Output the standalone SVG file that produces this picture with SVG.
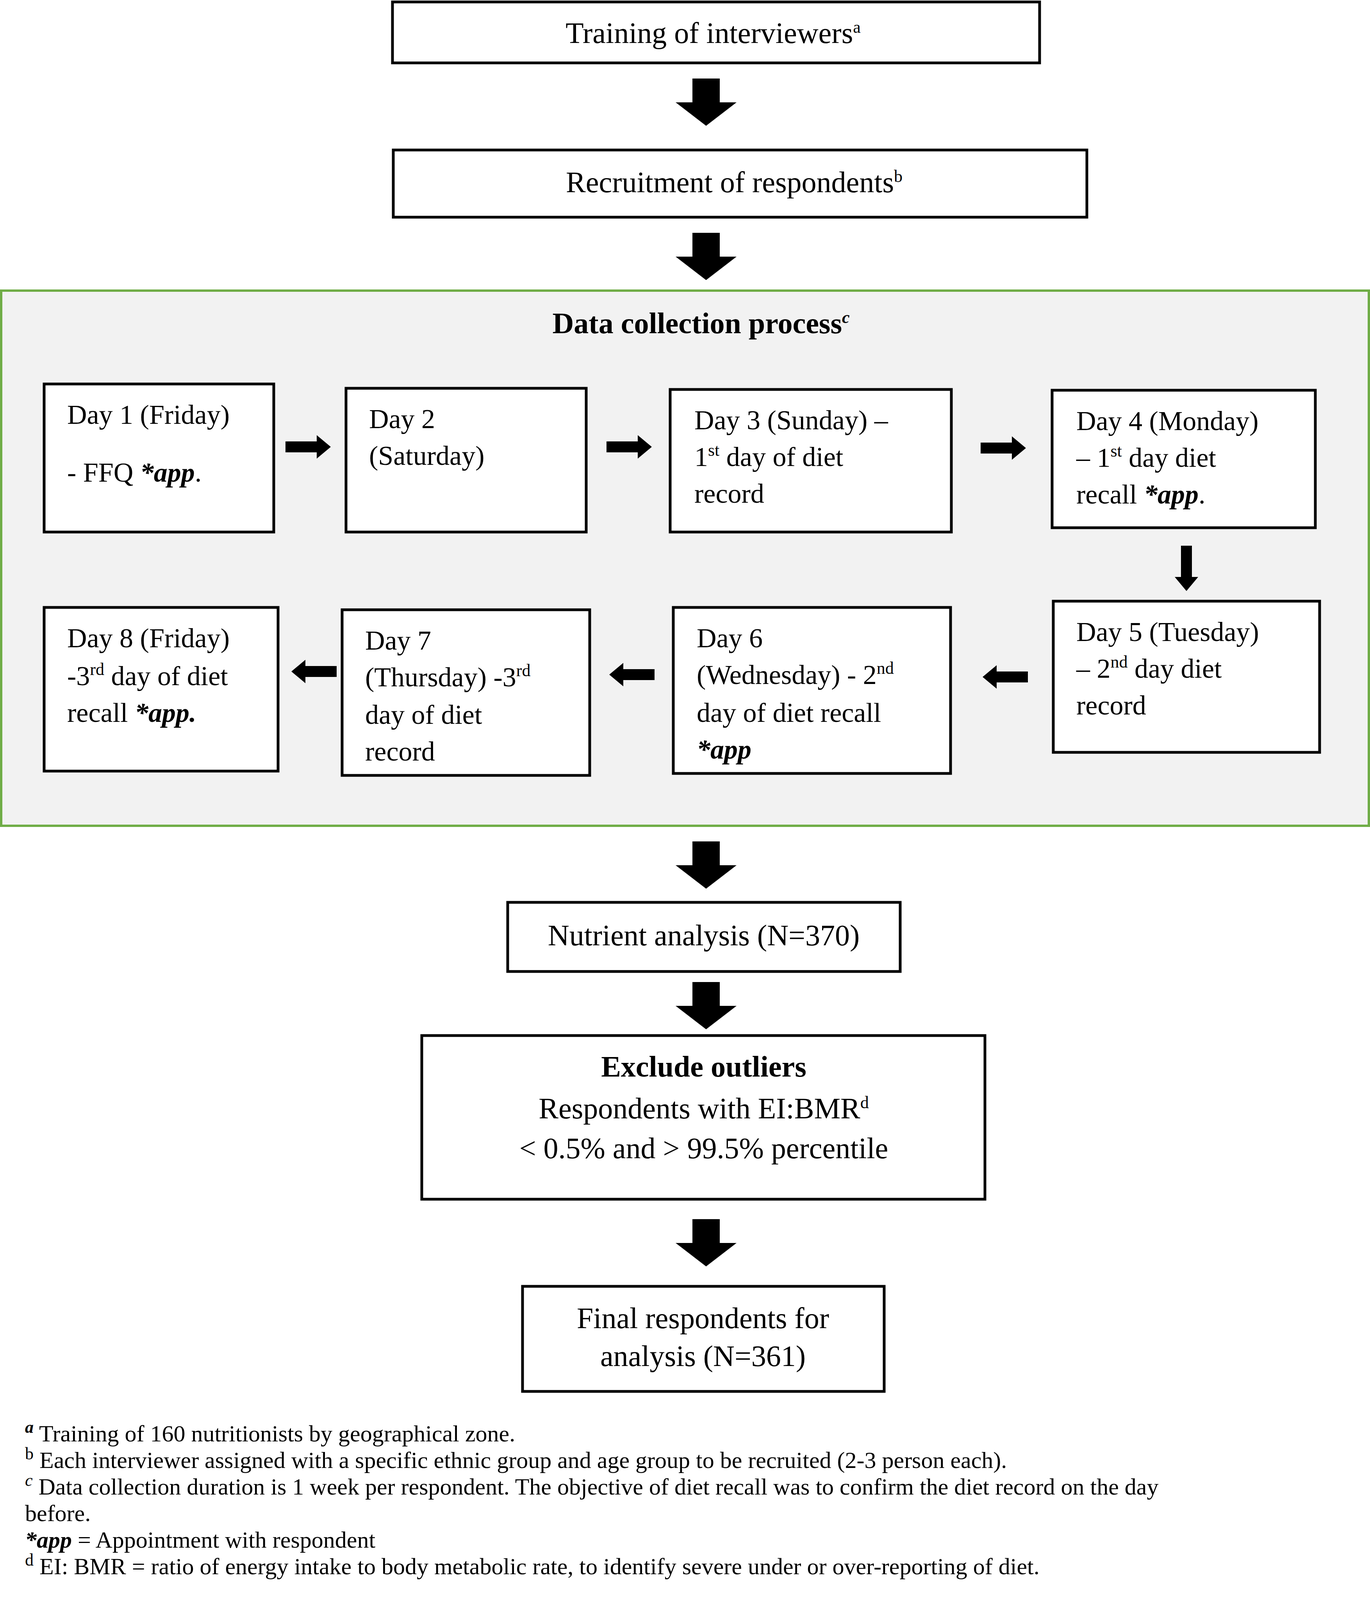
<svg xmlns="http://www.w3.org/2000/svg" width="3508" height="4211" viewBox="0 0 3508 4211">
<style>
text{font-family:"Liberation Serif","Times New Roman",serif;fill:#000}
.b{fill:#fff;stroke:#000;stroke-width:7}
.t{font-size:76px}
.d{font-size:70px}
.f{font-size:60px}
.c{text-anchor:middle}
.s{font-size:44px}
.a{fill:#000}
</style>
<defs>
<path id="bd" d="M-35,0 H35 V61 H78 L0,121 L-78,61 H-35 Z"/>
<path id="sr" d="M0,-14 H80 V-30 L116,0 L80,30 V14 H0 Z"/>
</defs>
<rect width="3508" height="4211" fill="#fff"/>
<rect x="3" y="744" width="3502" height="1370" fill="#f2f2f2" stroke="#70ad47" stroke-width="6"/>
<g id="connectors" class="a">
<use href="#bd" x="1808" y="201"/>
<use href="#bd" x="1808" y="596"/>
<use href="#bd" x="1808" y="2154"/>
<use href="#bd" x="1808" y="2514"/>
<use href="#bd" x="1808" y="3121"/>
<use href="#sr" transform="translate(731,1144)"/>
<use href="#sr" transform="translate(1553,1144)"/>
<use href="#sr" transform="translate(2511,1147)"/>
<use href="#sr" transform="translate(3038,1397) rotate(90)"/>
<use href="#sr" transform="translate(2632,1733) rotate(180)"/>
<use href="#sr" transform="translate(1676,1727) rotate(180)"/>
<use href="#sr" transform="translate(862,1719) rotate(180)"/>
</g>
<g id="n1"><rect class="b" x="1005" y="5" width="1657" height="156"/>
<text class="t c" x="1826" y="110">Training of interviewers<tspan class="s" dy="-26">a</tspan></text></g>
<g id="n2"><rect class="b" x="1007" y="384" width="1776" height="172"/>
<text class="t c" x="1880" y="492">Recruitment of respondents<tspan class="s" dy="-26">b</tspan></text></g>
<g id="title"><text class="t c" x="1795" y="853" font-weight="bold">Data collection process<tspan class="s" dy="-26" font-style="italic">c</tspan></text></g>
<g id="d1"><rect class="b" x="113" y="983" width="588" height="379"/>
<text class="d" x="172" y="1085">Day 1 (Friday)</text>
<text class="d" x="172" y="1233">- FFQ <tspan font-weight="bold" font-style="italic">*app</tspan>.</text></g>
<g id="d2"><rect class="b" x="886" y="994" width="615" height="368"/>
<text class="d" x="945" y="1096">Day 2</text><text class="d" x="945" y="1190">(Saturday)</text></g>
<g id="d3"><rect class="b" x="1716" y="997" width="720" height="365"/>
<text class="d" x="1778" y="1099">Day 3 (Sunday) –</text>
<text class="d" x="1778" y="1193">1<tspan class="s" dy="-26">st</tspan><tspan dy="26"> day of diet</tspan></text>
<text class="d" x="1778" y="1287">record</text></g>
<g id="d4"><rect class="b" x="2694" y="999" width="674" height="352"/>
<text class="d" x="2756" y="1101">Day 4 (Monday)</text>
<text class="d" x="2756" y="1195">– 1<tspan class="s" dy="-26">st</tspan><tspan dy="26"> day diet</tspan></text>
<text class="d" x="2756" y="1289">recall <tspan font-weight="bold" font-style="italic">*app</tspan>.</text></g>
<g id="d5"><rect class="b" x="2697" y="1539" width="682" height="387"/>
<text class="d" x="2756" y="1641">Day 5 (Tuesday)</text>
<text class="d" x="2756" y="1735">– 2<tspan class="s" dy="-26">nd</tspan><tspan dy="26"> day diet</tspan></text>
<text class="d" x="2756" y="1829">record</text></g>
<g id="d6"><rect class="b" x="1724" y="1555" width="710" height="425"/>
<text class="d" x="1784" y="1657">Day 6</text>
<text class="d" x="1784" y="1751">(Wednesday) - 2<tspan class="s" dy="-26">nd</tspan></text>
<text class="d" x="1784" y="1848">day of diet recall</text>
<text class="d" x="1784" y="1942" font-weight="bold" font-style="italic">*app</text></g>
<g id="d7"><rect class="b" x="876" y="1561" width="634" height="424"/>
<text class="d" x="935" y="1663">Day 7</text>
<text class="d" x="935" y="1757">(Thursday) -3<tspan class="s" dy="-26">rd</tspan></text>
<text class="d" x="935" y="1853">day of diet</text>
<text class="d" x="935" y="1947">record</text></g>
<g id="d8"><rect class="b" x="113" y="1555" width="599" height="419"/>
<text class="d" x="172" y="1657">Day 8 (Friday)</text>
<text class="d" x="172" y="1754">-3<tspan class="s" dy="-26">rd</tspan><tspan dy="26"> day of  diet</tspan></text>
<text class="d" x="172" y="1848">recall <tspan font-weight="bold" font-style="italic">*app.</tspan></text></g>
<g id="n3"><rect class="b" x="1300" y="2310" width="1005" height="177"/>
<text class="t c" x="1802" y="2420">Nutrient analysis (N=370)</text></g>
<g id="n4"><rect class="b" x="1080" y="2651" width="1442" height="419"/>
<text class="t c" x="1802" y="2756" font-weight="bold">Exclude outliers</text>
<text class="t c" x="1802" y="2863">Respondents with EI:BMR<tspan class="s" dy="-26">d</tspan></text>
<text class="t c" x="1802" y="2965">&lt; 0.5% and &gt; 99.5% percentile</text></g>
<g id="n5"><rect class="b" x="1338" y="3293" width="926" height="269"/>
<text class="t c" x="1800" y="3400">Final respondents for</text>
<text class="t c" x="1800" y="3497">analysis (N=361)</text></g>
<g id="notes">
<text class="f" x="64" y="3690"><tspan class="s" dy="-22" font-weight="bold" font-style="italic">a</tspan><tspan dy="22"> Training of 160 nutritionists by geographical zone.</tspan></text>
<text class="f" x="64" y="3758"><tspan class="s" dy="-22">b</tspan><tspan dy="22"> Each interviewer assigned with a specific ethnic group and age group to be recruited (2-3 person each).</tspan></text>
<text class="f" x="64" y="3826"><tspan class="s" dy="-22" font-style="italic">c</tspan><tspan dy="22"> Data collection duration is 1 week per respondent. The objective of diet recall was to confirm the diet record on the day</tspan></text>
<text class="f" x="64" y="3894">before.</text>
<text class="f" x="64" y="3962"><tspan font-weight="bold" font-style="italic">*app</tspan> = Appointment with respondent</text>
<text class="f" x="64" y="4030"><tspan class="s" dy="-22">d</tspan><tspan dy="22"> EI: BMR = ratio of energy intake to body metabolic rate, to identify severe under or over-reporting of diet.</tspan></text>
</g>
</svg>
